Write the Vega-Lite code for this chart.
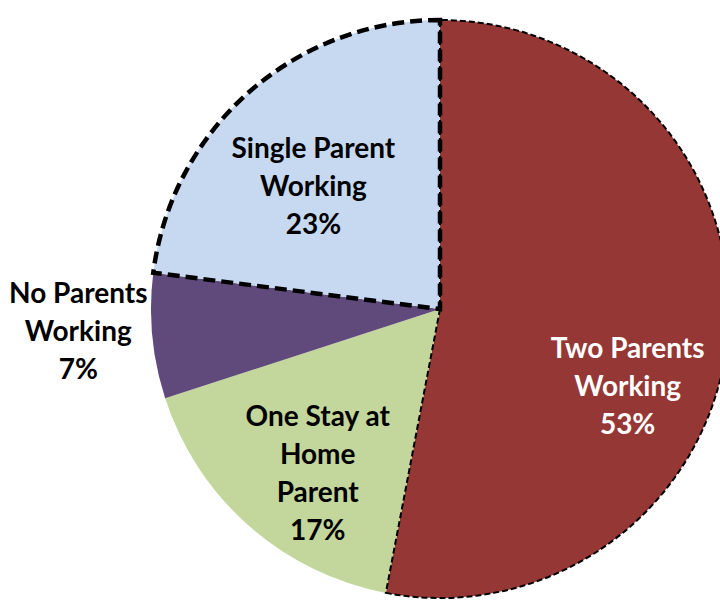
{
  "$schema": "https://vega.github.io/schema/vega-lite/v6.json",
  "width": 560,
  "height": 600,
  "autosize": {"type": "none"},
  "padding": {"left": 160, "top": 9, "right": 0, "bottom": 1},
  "background": "white",
  "view": {"stroke": null},
  "data": {
    "values": [
      {"category": "Two Parents Working", "share": 53, "order": 1, "label": "Two Parents\nWorking\n53%"},
      {"category": "One Stay at Home Parent", "share": 17, "order": 2, "label": "One Stay at\nHome\nParent\n17%"},
      {"category": "No Parents Working", "share": 7, "order": 3, "label": "No Parents\nWorking\n7%"},
      {"category": "Single Parent Working", "share": 23, "order": 4, "label": "Single Parent\nWorking\n23%"}
    ]
  },
  "encoding": {
    "theta": {"field": "share", "type": "quantitative", "stack": true},
    "order": {"field": "order", "type": "quantitative"}
  },
  "layer": [
    {
      "mark": {"type": "arc", "radius": 289},
      "encoding": {
        "color": {
          "field": "category",
          "type": "nominal",
          "scale": {
            "domain": ["Two Parents Working", "One Stay at Home Parent", "No Parents Working", "Single Parent Working"],
            "range": ["#953735", "#C3D69B", "#604A7B", "#C6D9F1"]
          },
          "legend": null
        }
      }
    },
    {
      "mark": {"type": "arc", "radius": 289, "filled": false, "stroke": "black", "strokeWidth": 2, "strokeDash": [6, 3]},
      "encoding": {
        "strokeOpacity": {"condition": {"test": "datum.category === 'Two Parents Working'", "value": 1}, "value": 0}
      }
    },
    {
      "mark": {"type": "arc", "radius": 289, "filled": false, "stroke": "black", "strokeWidth": 4.5, "strokeDash": [12, 6], "strokeJoin": "miter"},
      "encoding": {
        "strokeOpacity": {"condition": {"test": "datum.category === 'Single Parent Working'", "value": 1}, "value": 0}
      }
    },
    {
      "mark": {"type": "text", "radius": 203, "thetaOffset": 0.049, "font": "Lato", "fontWeight": "bold", "fontSize": 28, "lineHeight": 38, "lineBreak": "\n", "align": "center", "baseline": "middle", "color": "black"},
      "encoding": {
        "text": {"condition": {"test": "datum.category === 'Single Parent Working'", "field": "label"}, "value": ""}
      }
    },
    {
      "mark": {"type": "text", "radius": 164, "thetaOffset": 0.119, "font": "Lato", "fontWeight": "bold", "fontSize": 28, "lineHeight": 38, "lineBreak": "\n", "align": "center", "baseline": "middle", "color": "black"},
      "encoding": {
        "text": {"condition": {"test": "datum.category === 'One Stay at Home Parent'", "field": "label"}, "value": ""}
      }
    },
    {
      "mark": {"type": "text", "radius": 192, "thetaOffset": 0.12, "font": "Lato", "fontWeight": "bold", "fontSize": 28, "lineHeight": 38, "lineBreak": "\n", "align": "center", "baseline": "middle", "color": "white"},
      "encoding": {
        "text": {"condition": {"test": "datum.category === 'Two Parents Working'", "field": "label"}, "value": ""}
      }
    },
    {
      "mark": {"type": "text", "radius": 362, "thetaOffset": 0.133, "font": "Lato", "fontWeight": "bold", "fontSize": 28, "lineHeight": 38, "lineBreak": "\n", "align": "center", "baseline": "middle", "color": "black"},
      "encoding": {
        "text": {"condition": {"test": "datum.category === 'No Parents Working'", "field": "label"}, "value": ""}
      }
    }
  ]
}
